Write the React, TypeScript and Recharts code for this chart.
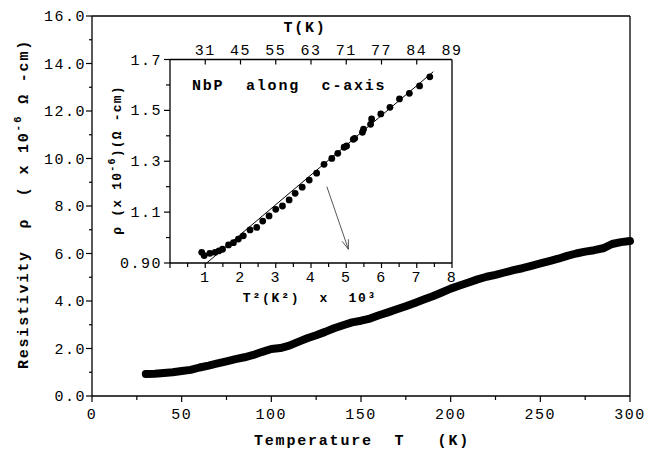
import React from 'react'
import {
  ComposedChart,
  LineChart,
  Line,
  Scatter,
  XAxis,
  YAxis,
  ReferenceLine,
} from 'recharts'

// main curve: resistivity vs temperature
const mainT = [
  30, 35, 40, 45, 50, 55, 60, 65, 70, 75, 80, 85, 90, 95, 100, 105, 110, 115, 120, 125,
  130, 135, 140, 145, 150, 155, 160, 165, 170, 175, 180, 185, 190, 195, 200, 205, 210,
  215, 220, 225, 230, 235, 240, 245, 250, 255, 260, 265, 270, 275, 280, 285, 290, 295, 300,
]
const mainRho = [
  0.93, 0.94, 0.97, 1.0, 1.05, 1.1, 1.2, 1.28, 1.37, 1.46, 1.55, 1.63, 1.73, 1.86, 1.98,
  2.02, 2.12, 2.28, 2.43, 2.56, 2.7, 2.85, 2.98, 3.1, 3.17, 3.26, 3.4, 3.52, 3.65, 3.78,
  3.92, 4.06, 4.2, 4.36, 4.52, 4.65, 4.78, 4.91, 5.02, 5.1, 5.2, 5.3, 5.38, 5.48, 5.58,
  5.68, 5.78, 5.9, 6.0, 6.08, 6.14, 6.22, 6.4, 6.48, 6.53,
]

// inset: rho vs T^2 (x 10^3)
const insetX = [
  0.9, 0.97, 1.13, 1.28, 1.39, 1.49, 1.66, 1.8, 1.94, 2.08, 2.27, 2.46, 2.63, 2.81, 3.0,
  3.19, 3.38, 3.55, 3.75, 3.95, 4.16, 4.37, 4.59, 4.76, 4.94, 5.01, 5.2, 5.24, 5.46, 5.49,
  5.69, 5.72, 5.98, 6.24, 6.51, 6.79, 7.08, 7.37,
]
const insetRho = [
  0.942, 0.929, 0.938, 0.942, 0.948, 0.954, 0.971, 0.98, 0.994, 1.007, 1.03, 1.04, 1.065,
  1.085, 1.111, 1.124, 1.148, 1.174, 1.198, 1.226, 1.253, 1.288, 1.311, 1.331, 1.355, 1.36,
  1.386, 1.39, 1.414, 1.426, 1.445, 1.466, 1.486, 1.512, 1.545, 1.567, 1.596, 1.632,
]
const fitX = [1.04, 7.47]
const fitRho = [0.9, 1.652]
const arrowX = [4.45, 5.06]
const arrowRho = [1.2, 0.954]

// ticks
const mainXTicks = [0, 25, 50, 75, 100, 125, 150, 175, 200, 225, 250, 275, 300]
const mainYTicks = [0, 1, 2, 3, 4, 5, 6, 7, 8, 9, 10, 11, 12, 13, 14, 15, 16]
const insetBottomTicks = [0, 0.5, 1, 1.5, 2, 2.5, 3, 3.5, 4, 4.5, 5, 5.5, 6, 6.5, 7, 7.5, 8]
const insetTopTicks = [1, 2, 3, 4, 5, 6, 7, 8]
const insetTopLabels = ['31', '45', '55', '63', '71', '77', '84', '89']
const insetYTicks = [0.9, 1.0, 1.1, 1.2, 1.3, 1.4, 1.5, 1.6, 1.7]
const insetYLabels = ['0.90', '', '1.1', '', '1.3', '', '1.5', '', '1.7']

const mainData = mainT.map((T, i) => ({ T, rho: mainRho[i] }))
const insetData = insetX.map((x, i) => ({ x, y: insetRho[i] }))
const fitData = fitX.map((x, i) => ({ x, y: fitRho[i] }))

const FONT = "'Liberation Mono', 'Courier New', monospace"
const tickText = { fontFamily: FONT, fontSize: 15, letterSpacing: 1.5, fill: '#000' }
const boldText = { fontFamily: FONT, fontSize: 15, fontWeight: 700, letterSpacing: 1.8, fill: '#000' }

const MainXTick = ({ x, y, payload }: any) => {
  const v = payload.value
  const major = v % 50 === 0
  return (
    <g>
      <line x1={x} x2={x} y1={y} y2={y + (major ? 6 : 4)} stroke="#000" strokeWidth={1.2} />
      {major && (
        <text x={x} y={y + 23} textAnchor="middle" style={tickText}>
          {v}
        </text>
      )}
    </g>
  )
}

const MainYTick = ({ x, y, payload }: any) => {
  const v = payload.value
  const major = v % 2 === 0
  return (
    <g>
      <line x1={x - (major ? 6 : 3)} x2={x} y1={y} y2={y} stroke="#000" strokeWidth={1.2} />
      {major && (
        <text x={x - 6} y={y + 5} textAnchor="end" style={tickText}>
          {v.toFixed(1)}
        </text>
      )}
    </g>
  )
}

const InsetBottomTick = ({ x, y, payload }: any) => {
  const v = payload.value
  const major = Number.isInteger(v)
  return (
    <g>
      <line x1={x} x2={x} y1={y} y2={y + (major ? 5 : 4)} stroke="#000" strokeWidth={1.2} />
      {major && v > 0 && (
        <text x={x} y={y + 19} textAnchor="middle" style={tickText}>
          {v}
        </text>
      )}
    </g>
  )
}

const InsetTopTick = ({ x, y, payload, index }: any) => (
  <g>
    {payload.value < 8 && <line x1={x} x2={x} y1={y} y2={y + 5} stroke="#000" strokeWidth={1.2} />}
    <text x={x} y={y - 5} textAnchor="middle" style={tickText}>
      {insetTopLabels[index]}
    </text>
  </g>
)

const InsetYTick = ({ x, y, index }: any) => {
  const label = insetYLabels[index]
  return (
    <g>
      <line x1={x - (label ? 6 : 4)} x2={x} y1={y} y2={y} stroke="#000" strokeWidth={1.2} />
      {label && (
        <text x={x - 8} y={y + 5} textAnchor="end" style={tickText}>
          {label}
        </text>
      )}
    </g>
  )
}

const Dot = (p: any) => <circle cx={p.cx} cy={p.cy} r={3.4} fill="#000" />

const Arrow = (p: any) => {
  const { x1, y1, x2, y2 } = p
  const a = Math.atan2(y2 - y1, x2 - x1)
  const len = 10
  const s = 0.33
  return (
    <g stroke="#444" strokeWidth={0.9} fill="none">
      <line x1={x1} y1={y1} x2={x2} y2={y2} />
      <line x1={x2} y1={y2} x2={x2 - len * Math.cos(a - s)} y2={y2 - len * Math.sin(a - s)} />
      <line x1={x2} y1={y2} x2={x2 - len * Math.cos(a + s)} y2={y2 - len * Math.sin(a + s)} />
    </g>
  )
}

export default function App() {
  return (
    <div style={{ position: 'absolute', left: 0, top: 0, width: 648, height: 464, background: '#fff' }}>
      <div style={{ position: 'absolute', left: 0, top: 0 }}>
        <LineChart width={648} height={464} data={mainData} margin={{ top: 16, right: 18, bottom: 0, left: 0 }}>
          <XAxis
            dataKey="T"
            type="number"
            domain={[0, 300]}
            ticks={mainXTicks}
            tick={<MainXTick />}
            tickSize={0}
            tickMargin={0}
            height={68}
            interval={0}
            axisLine={{ stroke: '#000', strokeWidth: 1.3 }}
          />
          <YAxis
            type="number"
            domain={[0, 16]}
            ticks={mainYTicks}
            tick={<MainYTick />}
            tickSize={0}
            tickMargin={0}
            width={92}
            interval={0}
            axisLine={{ stroke: '#000', strokeWidth: 1.3 }}
          />
          <ReferenceLine y={16} stroke="#000" strokeWidth={1.3} />
          <ReferenceLine x={300} stroke="#000" strokeWidth={1.3} />
          <Line
            dataKey="rho"
            stroke="#000"
            strokeWidth={8}
            strokeLinecap="round"
            strokeLinejoin="round"
            dot={false}
            type="linear"
            isAnimationActive={false}
          />
        </LineChart>
      </div>
      <div style={{ position: 'absolute', left: 0, top: 0 }}>
        <ComposedChart width={648} height={464} margin={{ top: 0, right: 196, bottom: 0, left: 0 }}>
          <XAxis
            xAxisId="bottom"
            dataKey="x"
            type="number"
            domain={[0, 8]}
            ticks={insetBottomTicks}
            tick={<InsetBottomTick />}
            tickSize={0}
            tickMargin={0}
            height={201}
            interval={0}
            axisLine={{ stroke: '#000', strokeWidth: 1.3 }}
          />
          <XAxis
            xAxisId="top"
            orientation="top"
            dataKey="x"
            type="number"
            domain={[0, 8]}
            ticks={insetTopTicks}
            tick={<InsetTopTick />}
            tickSize={0}
            tickMargin={0}
            height={59.5}
            interval={0}
            axisLine={{ stroke: '#000', strokeWidth: 1.3 }}
          />
          <YAxis
            dataKey="y"
            type="number"
            domain={[0.9, 1.7]}
            ticks={insetYTicks}
            tick={<InsetYTick />}
            tickSize={0}
            tickMargin={0}
            width={170}
            interval={0}
            axisLine={{ stroke: '#000', strokeWidth: 1.3 }}
          />
          <ReferenceLine xAxisId="bottom" x={8} stroke="#000" strokeWidth={1.3} />
          <Line
            xAxisId="top"
            data={fitData}
            dataKey="y"
            stroke="#000"
            strokeWidth={1}
            dot={false}
            type="linear"
            isAnimationActive={false}
          />
          <Scatter
            xAxisId="bottom"
            data={insetData}
            dataKey="y"
            fill="#000"
            shape={<Dot />}
            isAnimationActive={false}
          />
          <ReferenceLine
            xAxisId="bottom"
            segment={[
              { x: arrowX[0], y: arrowRho[0] },
              { x: arrowX[1], y: arrowRho[1] },
            ]}
            shape={Arrow}
          />
        </ComposedChart>
      </div>
      <svg width={648} height={464} style={{ position: 'absolute', left: 0, top: 0, pointerEvents: 'none' }}>
        <text transform="translate(24,204) rotate(-90)" textAnchor="middle" dominantBaseline="central" style={{ ...boldText, whiteSpace: 'pre' }}>
          {'Resistivity  ρ  ( x 10'}
          <tspan dy={-6} fontSize={11}>-6</tspan>
          <tspan dy={6}>{' Ω -cm)'}</tspan>
        </text>
        <text x={362} y={445} textAnchor="middle" style={{ ...boldText, whiteSpace: 'pre' }}>
          {'Temperature  T   (K)'}
        </text>
        <text x={305} y={32} textAnchor="middle" style={boldText}>
          T(K)
        </text>
        <text x={192} y={90} style={{ ...boldText, whiteSpace: 'pre' }}>
          {'NbP  along  c-axis'}
        </text>
        <text x={310} y={302} textAnchor="middle" style={{ ...boldText, fontSize: 13, whiteSpace: 'pre' }}>
          {'T²(K²)  x  10³'}
        </text>
        <text transform="translate(117,160) rotate(-90)" textAnchor="middle" dominantBaseline="central" style={{ ...boldText, fontSize: 13, letterSpacing: 1.2, whiteSpace: 'pre' }}>
          {'ρ (x 10'}
          <tspan dy={-5} fontSize={10}>-6</tspan>
          <tspan dy={5}>{')(Ω -cm)'}</tspan>
        </text>
      </svg>
    </div>
  )
}
